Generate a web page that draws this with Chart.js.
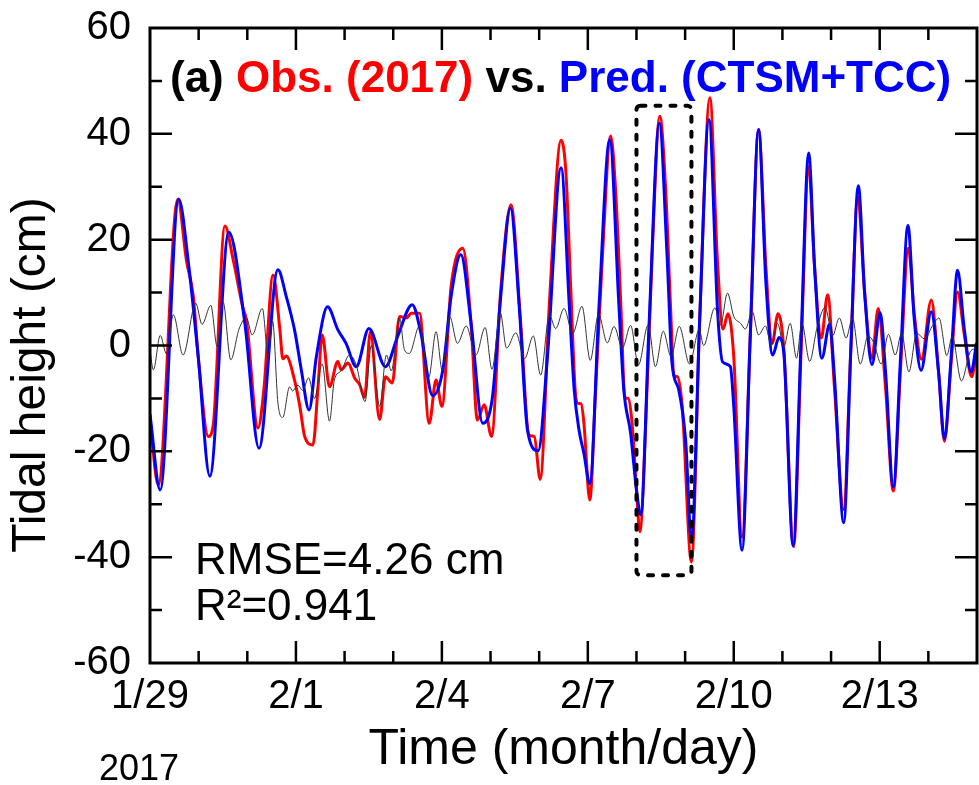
<!DOCTYPE html>
<html lang="en">
<head>
<meta charset="UTF-8">
<title>Obs. (2017) vs. Pred. (CTSM+TCC)</title>
<script src="https://cdn.jsdelivr.net/npm/chart.js@4.4.1/dist/chart.umd.min.js"></script>
<style>
  body { margin: 0; background: #fff; }
  #wrap { width: 979px; height: 785px; }
</style>
</head>
<body>
<div id="wrap"><canvas id="tideChart" width="979" height="785"></canvas></div>
<script>
// time in days after 1/29 00:00 (2017), tidal height in cm
const obsT = [0.00, 0.17, 0.57, 0.75, 0.89, 0.99, 1.20, 1.30, 1.54, 1.71,
  1.91, 1.98, 2.22, 2.34, 2.53, 2.67, 2.73, 2.80, 2.97, 3.08,
  3.18, 3.35, 3.45, 3.54, 3.69, 3.86, 3.93, 4.07, 4.21, 4.31,
  4.41, 4.53, 4.72, 4.84, 4.98, 5.13, 5.27, 5.37, 5.54, 5.74,
  5.88, 6.00, 6.19, 6.43, 6.60, 6.73, 6.87, 7.02, 7.21, 7.42,
  7.62, 7.79, 7.90, 8.02, 8.21, 8.45, 8.55, 8.65, 8.74, 8.79,
  8.86, 8.92, 9.04, 9.16, 9.30, 9.47, 9.57, 9.68, 9.76, 9.83,
  9.91, 10.00, 10.07, 10.19, 10.32, 10.48, 10.60, 10.70, 10.77, 10.84,
  10.94, 11.13, 11.30, 11.51, 11.66, 11.78, 11.88, 12.00, 12.17, 12.34,
  12.51, 12.66, 12.79, 12.91, 13.03, 13.23, 13.38, 13.54, 13.66, 13.80,
  13.93, 14.07, 14.26, 14.40, 14.55, 14.69, 14.84, 14.97, 15.12, 15.28,
  15.43, 15.59, 15.71, 15.86, 16.06, 16.21, 16.33, 16.47, 16.60, 16.74,
  16.89, 16.99];
const obsH = [-14, -26.4, 27.6, 16, 9.3, -2, -17.2, -15, 22.6, 16.2,
  7.1, 4.9, -15.6, -8.4, 13.3, 3, -2.5, -2.0, -6.5, -11.5,
  -17.2, -18.8, -8.4, 2.0, -7.8, -3.0, -4.6, -3.3, -6.2, -7.4,
  -9.8, 2.6, -14.0, -5.9, -7.1, 5.5, 5.2, 6.1, 6.1, -14.7,
  -6.5, -11.5, 11.2, 18.4, 4.2, -14.1, -11.2, -17.2, 10.5, 26.6,
  4.2, -16.9, -17.2, -25.3, 8, 38.8, 32.6, 10.5, -8.4, -10.9,
  -11.0, -14.7, -29.2, -8.4, 16.8, 39.6, 29.5, 7.4, -9.7, -10,
  -14.7, -27.3, -35.2, -14.7, 16.8, 43.3, 29.5, 7.4, -5.6, -5.9,
  -11.5, -40.9, 5, 46.8, 16.8, 3.1, 6.0, -2.1, -36.2, 2,
  40.8, 15, 0.4, 6.0, -0.8, -38, -2, 33.8, 15, 1.4,
  9.6, -8, -31, -2, 28, 10, -2.4, 7, -8, -27.5,
  -4, 18.4, 6, -2.6, 8.6, -5, -18.1, -3, 10.1, 2,
  -5.9, -1];

const predT = [0.00, 0.21, 0.59, 0.79, 0.99, 1.23, 1.62, 1.95, 2.24, 2.63,
  2.80, 2.97, 3.11, 3.27, 3.42, 3.65, 3.86, 4.03, 4.24, 4.50,
  4.84, 5.09, 5.39, 5.57, 5.81, 6.02, 6.19, 6.39, 6.60, 6.84,
  7.04, 7.21, 7.41, 7.59, 7.76, 7.98, 8.17, 8.45, 8.62, 8.72,
  8.82, 8.92, 9.04, 9.23, 9.45, 9.64, 9.74, 9.88, 10.00, 10.09,
  10.26, 10.47, 10.63, 10.73, 10.87, 11.01, 11.13, 11.30, 11.49, 11.67,
  11.77, 11.93, 12.00, 12.17, 12.34, 12.51, 12.66, 12.80, 12.93, 13.03,
  13.22, 13.38, 13.54, 13.66, 13.81, 13.97, 14.07, 14.26, 14.41, 14.56,
  14.69, 14.84, 15.01, 15.12, 15.28, 15.43, 15.58, 15.71, 15.85, 16.06,
  16.21, 16.33, 16.47, 16.60, 16.74, 16.88, 16.99];
const predH = [-13, -27.3, 27.7, 15.6, -2, -24.7, 21.4, 4.2, -19.4, 14.3,
  9.3, 3.0, -4.6, -12.2, -2.1, 7.3, 3.0, 0.4, -4.0, 3.2,
  -4.0, 1.7, 7.7, 2.3, -9.5, -4.6, 9.3, 17.2, 4.2, -14.7,
  -9.7, 9.3, 26.0, 7.4, -16, -19.9, -2.1, 33.6, 7.4, -8.4,
  -16, -20.4, -26.1, 7.4, 38.9, 7.4, -8.4, -16.6, -27.3, -32,
  4.2, 42, 16.8, -3.3, -8.4, -17.9, -36.8, 5, 42.7, 6,
  -3.1, -4.0, -11.5, -38.7, 2, 40.8, 12, -1.8, 1.5, -1.5,
  -37.8, 0, 36.4, 15, -2.4, 4, -6, -33.5, 0, 30.2,
  10, -3.6, 6.2, -5, -26.7, -2, 22.7, 5, -4.7, 6.4,
  -5, -17.6, -2, 14.2, 3, -5, 0.5];

// thin black curve
const diffT = [0.00, 0.07, 0.21, 0.34, 0.48, 0.68, 0.94, 1.07, 1.25, 1.38,
  1.50, 1.66, 1.83, 1.98, 2.10, 2.31, 2.43, 2.52, 2.63, 2.73,
  2.87, 2.93, 3.04, 3.14, 3.26, 3.38, 3.54, 3.69, 3.79, 3.93,
  4.10, 4.24, 4.42, 4.55, 4.72, 4.86, 4.96, 5.13, 5.23, 5.33,
  5.54, 5.73, 5.88, 6.01, 6.16, 6.32, 6.50, 6.70, 6.89, 7.03,
  7.20, 7.33, 7.52, 7.70, 7.88, 8.03, 8.21, 8.34, 8.51, 8.69,
  8.88, 9.05, 9.22, 9.40, 9.54, 9.71, 9.88, 10.04, 10.24, 10.39,
  10.55, 10.71, 10.88, 11.09, 11.29, 11.38, 11.61, 11.73, 11.87, 12.00,
  12.14, 12.24, 12.38, 12.51, 12.65, 12.77, 12.90, 13.03, 13.16, 13.29,
  13.40, 13.56, 13.71, 13.88, 14.03, 14.17, 14.31, 14.44, 14.60, 14.76,
  14.88, 15.03, 15.18, 15.32, 15.45, 15.60, 15.76, 15.93, 16.07, 16.22,
  16.38, 16.49, 16.68, 16.86, 16.99];
const diffH = [-1, -4.6, 1.9, -1.6, 5.8, -1.8, 8.0, 4.0, 7.6, -0.2,
  8.3, -2.7, 3.1, 5.3, 2, 7.0, -2.1, 4.6, -10.9, -13.6,
  -7.8, -8.6, -7.5, -8.5, -6.1, -10, -3.5, -14.3, -6.5, -4.8,
  -1.8, -3.7, -10.6, 0, -11.5, -1.8, -4.8, 5.2, -0.8, -1.5,
  3.7, -6, 2.6, -4.8, 5.5, 0.4, 3.7, -1.8, 3.4, -4.5,
  6.2, -0.5, 2.4, -2.5, 1.8, -5.6, 5.7, 3.2, 7.0, 2.3,
  7.4, -2.8, 5.9, 0.5, 3.6, -0.5, 3.8, -3.7, 3.9, -4.0,
  2.7, -2.1, 3.6, -3.5, 3.0, 0, 7.1, 3.9, 9.9, 5.5,
  4.2, 3.1, 6.4, 2.0, 3.7, 0, 4.2, -0.2, 4.2, -2.4,
  4.2, -3, 3.3, 7.2, 1.8, 5.2, 1.4, 5.2, -3.5, 1.8,
  0.5, -3.5, 2.1, -1.8, 2.3, -5, 2.3, 1.2, 3.5, 5.2,
  -1.9, 1.7, -6.7, -1.2, -0.5];

const xTickDays = [0, 3, 6, 9, 12, 15];
const xTickLabels = ['1/29', '2/1', '2/4', '2/7', '2/10', '2/13'];
const yTickValues = [-60, -40, -20, 0, 20, 40, 60];

// dashed box around the 2/8 - 2/9 event
const boxDays = [10.0, 11.13];
const boxCm = [-43.4, 45.3];

const FONT = "'Liberation Sans', Arial, sans-serif";
Chart.defaults.font.family = FONT;
Chart.defaults.color = '#000';

function toPoints(t, h) {
  return t.map((v, i) => ({ x: v, y: h[i] }));
}

// frame, inward ticks, dashed box and the texts inside the plot
const framePlugin = {
  id: 'frame',
  afterDatasetsDraw(chart) {
    const { ctx, chartArea: a, scales: { x, y } } = chart;
    ctx.save();

    // dashed box
    const bx0 = x.getPixelForValue(boxDays[0]), bx1 = x.getPixelForValue(boxDays[1]);
    const by0 = y.getPixelForValue(boxCm[1]), by1 = y.getPixelForValue(boxCm[0]);
    ctx.strokeStyle = '#000';
    ctx.lineWidth = 4;
    ctx.lineCap = 'round';
    ctx.setLineDash([5, 10]);
    ctx.beginPath();
    ctx.roundRect(bx0, by0, bx1 - bx0, by1 - by0, 4);
    ctx.stroke();
    ctx.setLineDash([]);
    ctx.lineCap = 'butt';

    // ticks pointing inward
    ctx.lineWidth = 2.5;
    ctx.beginPath();
    for (let d = 1; d < 17; d++) {
      const px = x.getPixelForValue(d);
      const len = d % 3 === 0 ? 22 : 12;
      ctx.moveTo(px, a.bottom); ctx.lineTo(px, a.bottom - len);
      ctx.moveTo(px, a.top); ctx.lineTo(px, a.top + len);
    }
    for (let v = -50; v < 60; v += 10) {
      const py = y.getPixelForValue(v);
      const len = v % 20 === 0 ? 22 : 12;
      ctx.moveTo(a.left, py); ctx.lineTo(a.left + len, py);
      ctx.moveTo(a.right, py); ctx.lineTo(a.right - len, py);
    }
    ctx.stroke();
    ctx.lineWidth = 3;
    ctx.strokeRect(a.left, a.top, a.right - a.left, a.bottom - a.top);

    // panel title with coloured parts
    const parts = [['(a) ', '#000'], ['Obs. (2017)', '#ff0000'], [' vs. ', '#000'], ['Pred. (CTSM+TCC)', '#0000ff']];
    ctx.font = 'bold 44px ' + FONT;
    ctx.textBaseline = 'alphabetic';
    ctx.textAlign = 'left';
    let tx = 170;
    parts.forEach(([s, c]) => {
      ctx.fillStyle = c;
      ctx.fillText(s, tx, 92);
      tx += ctx.measureText(s).width;
    });

    // statistics
    ctx.fillStyle = '#000';
    ctx.font = '44px ' + FONT;
    ctx.fillText('RMSE=4.26 cm', 195, 574);
    ctx.fillText('R\u00b2=0.941', 195, 620);

    // year under the first date
    ctx.font = '36px ' + FONT;
    ctx.textAlign = 'center';
    ctx.textBaseline = 'middle';
    ctx.fillText('2017', 139, 770);

    // y axis title
    ctx.font = '48px ' + FONT;
    ctx.translate(32, 375);
    ctx.rotate(-Math.PI / 2);
    ctx.fillText('Tidal height (cm)', 0, 0);
    ctx.restore();
  }
};

new Chart(document.getElementById('tideChart'), {
  type: 'line',
  data: {
    datasets: [
      { label: 'Obs. (2017)', data: toPoints(obsT, obsH), borderColor: '#ff0000', borderWidth: 3, order: 3 },
      { label: 'Pred. (CTSM+TCC)', data: toPoints(predT, predH), borderColor: '#0000ff', borderWidth: 3, order: 2 },
      { label: 'Difference', data: toPoints(diffT, diffH), borderColor: '#333333', borderWidth: 1, order: 1 }
    ]
  },
  options: {
    responsive: false,
    animation: false,
    layout: { padding: { top: 28, right: 2, left: 0, bottom: 0 } },
    elements: {
      point: { radius: 0 },
      line: { cubicInterpolationMode: 'monotone', fill: false }
    },
    plugins: { legend: { display: false }, tooltip: { enabled: false } },
    scales: {
      x: {
        type: 'linear',
        min: 0,
        max: 17,
        grid: { display: false },
        border: { display: false },
        afterBuildTicks: s => { s.ticks = xTickDays.map(v => ({ value: v })); },
        ticks: {
          autoSkip: false,
          maxRotation: 0,
          padding: 2,
          font: { size: 40 },
          callback: (v, i) => xTickLabels[i]
        },
        title: {
          display: true,
          text: 'Time (month/day)',
          font: { size: 50 },
          padding: { top: 0, bottom: 5 }
        },
        afterFit: s => { s.height = 122; s.paddingLeft = 0; s.paddingRight = 0; }
      },
      y: {
        min: -60,
        max: 60,
        grid: { display: false },
        border: { display: false },
        afterBuildTicks: s => { s.ticks = yTickValues.map(v => ({ value: v })); },
        ticks: { padding: 11, font: { size: 40 } },
        afterFit: s => { s.width = 150; s.paddingTop = 0; s.paddingBottom = 0; }
      }
    }
  },
  plugins: [framePlugin]
});
</script>
</body>
</html>
